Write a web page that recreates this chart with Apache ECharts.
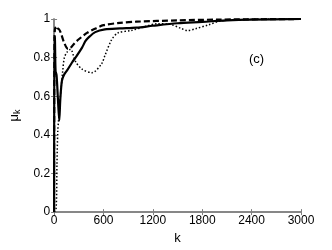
<!DOCTYPE html>
<html><head><meta charset="utf-8">
<script src="https://cdn.jsdelivr.net/npm/echarts@6/dist/echarts.min.js"></script>
<style>html,body{margin:0;padding:0;background:#fff}#c{width:332px;height:250px}</style>
</head><body><div id="c"></div>
<script>
var xTicks = [0, 600, 1200, 1800, 2400, 3000];
var yTicks = [0, 0.2, 0.4, 0.6, 0.8, 1];

var kSolid = [0, 4, 10, 18, 30, 45, 63, 75, 95, 120, 160, 220, 260, 340, 380, 420, 500, 617, 800, 1000, 1200, 1500, 1800, 2100, 2400, 3000];
var vSolid = [0, 0.91, 0.9, 0.73, 0.71, 0.6, 0.475, 0.58, 0.68, 0.71, 0.735, 0.776, 0.80, 0.852, 0.885, 0.905, 0.932, 0.946, 0.951, 0.955, 0.965, 0.978, 0.985, 0.993, 0.997, 1.0];

var kDash = [0, 5, 15, 30, 50, 80, 120, 170, 200, 250, 300, 400, 500, 600, 800, 1000, 1500, 2000, 3000];
var vDash = [0, 0.90, 0.955, 0.94, 0.95, 0.93, 0.88, 0.845, 0.85, 0.875, 0.895, 0.928, 0.95, 0.968, 0.98, 0.986, 0.993, 0.997, 1.0];

var kDot = [0, 25, 35, 45, 55, 70, 85, 105, 125, 160, 200, 260, 340, 460, 577, 617, 696, 775, 933, 1100, 1250, 1400, 1550, 1620, 1720, 1880, 2020, 2200, 2500, 3000];
var vDot = [0, 0.02, 0.25, 0.42, 0.48, 0.57, 0.64, 0.73, 0.80, 0.83, 0.843, 0.78, 0.74, 0.722, 0.768, 0.81, 0.89, 0.928, 0.94, 0.96, 0.975, 0.973, 0.95, 0.94, 0.95, 0.97, 0.99, 0.995, 1.0, 1.0];

function pairs(k, v) { return k.map(function (x, i) { return [x, v[i]]; }); }

var chart = echarts.init(document.getElementById('c'), null, {renderer: 'canvas'});
var font = 'Liberation Sans, Arial, sans-serif';
var axisCol = '#808080';
function fmtY(v) { return String(Math.round(v * 10) / 10); }
function fmtX(v) { return String(v); }
chart.setOption({
  animation: false,
  backgroundColor: '#fff',
  grid: {left: 48, right: 31, top: 19, bottom: 33, containLabel: false},
  xAxis: [{
    type: 'value', min: xTicks[0], max: xTicks[xTicks.length - 1], interval: 600,
    name: 'k', nameLocation: 'middle', nameGap: 16,
    nameTextStyle: {fontFamily: font, fontSize: 13, color: '#000'},
    axisLine: {show: true, lineStyle: {color: axisCol, width: 1.5}},
    axisTick: {inside: true, length: 3, lineStyle: {color: axisCol}},
    axisLabel: {fontFamily: font, fontSize: 12, color: '#000', margin: 3, formatter: fmtX},
    splitLine: {show: false}
  }, {
    type: 'value', position: 'top', min: 0, max: 3000, interval: 600,
    axisLine: {show: true, lineStyle: {color: axisCol, width: 1.5}},
    axisTick: {inside: true, length: 3, lineStyle: {color: axisCol}},
    axisLabel: {show: false}, splitLine: {show: false}
  }],
  yAxis: [{
    type: 'value', min: 0, max: 1, interval: 0.2,
    name: '{m|μ}{s|k}', nameLocation: 'middle', nameGap: 30, nameRotate: 90,
    nameTextStyle: {rich: {
      m: {fontFamily: font, fontSize: 13, color: '#000'},
      s: {fontFamily: font, fontSize: 9, color: '#000', padding: [7, 0, 0, 0]}
    }},
    axisLine: {show: true, lineStyle: {color: axisCol, width: 1.5}},
    axisTick: {inside: true, length: 3, lineStyle: {color: axisCol}},
    axisLabel: {fontFamily: font, fontSize: 12, color: '#000', margin: 4, formatter: fmtY},
    splitLine: {show: false}
  }, {
    type: 'value', position: 'right', min: 0, max: 1, interval: 0.2,
    axisLine: {show: true, lineStyle: {color: axisCol, width: 1.5}},
    axisTick: {inside: true, length: 3, lineStyle: {color: axisCol}},
    axisLabel: {show: false}, splitLine: {show: false}
  }],
  graphic: [{
    type: 'text', left: 249, top: 53,
    style: {text: '(c)', font: '13px ' + font, fill: '#000'}
  }],
  series: [{
    type: 'line', data: pairs(kDot, vDot), showSymbol: false, smooth: 0.3,
    lineStyle: {color: '#000', width: 1.5, type: [1.5, 2]}
  }, {
    type: 'line', data: pairs(kDash, vDash), showSymbol: false, smooth: 0.3,
    lineStyle: {color: '#000', width: 2.2, type: [6, 3]}
  }, {
    type: 'line', data: pairs(kSolid, vSolid), showSymbol: false, smooth: 0.3,
    lineStyle: {color: '#000', width: 2.2}
  }]
});
</script></body></html>
